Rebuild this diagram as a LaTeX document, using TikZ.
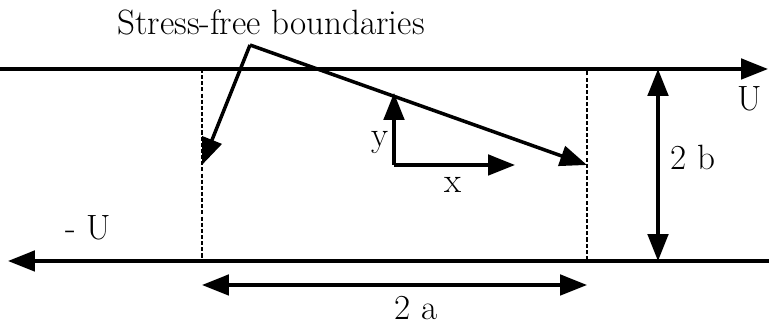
\documentclass[tikz,border=0pt]{standalone}
\usetikzlibrary{arrows.meta}
\tikzset{
  flow/.style={line width=2pt,-{Triangle[length=0.54cm,width=0.41cm]}},
  span/.style={line width=2pt,{Triangle[length=0.54cm,width=0.41cm]}-{Triangle[length=0.54cm,width=0.41cm]}},
  bound/.style={line width=0.6pt,dash pattern=on 2.3pt off 1.2pt},
  lbl/.style={font=\fontsize{20}{24}\selectfont,inner sep=0pt,anchor=base}
}
\begin{document}
\begin{tikzpicture}[x=0.02cm,y=-0.02cm]
      \useasboundingbox (0,0) rectangle (769,327);
      % walls
      \coordinate (wtl) at (0,69);
      \coordinate (wtr) at (768,69);
      \coordinate (wbl) at (8,261);
      \coordinate (wbr) at (769,261);
      % stress-free boundaries
      \coordinate (blt) at (202,69);
      \coordinate (blb) at (202,261);
      \coordinate (brt) at (587,69);
      \coordinate (brb) at (587,261);
      \draw [bound] (blt) -- (blb) -- (brb) -- (brt);
      \draw [flow] (wtl) -- (wtr);
      \draw [flow] (wbr) -- (wbl);
      \node [lbl] (U) at (750,111) {U};
      \node [lbl] (mU) at (88,240) {- U};
      % 2b
      \coordinate (ht) at (658,69);
      \coordinate (hb) at (658,261);
      \draw [span] (ht) -- (hb);
      \node [lbl] (b) at (693,170) {2 b};
      % 2a
      \coordinate (wl) at (202,285);
      \coordinate (wr) at (587,285);
      \draw [span] (wl) -- (wr);
      \node [lbl] (a) at (416,320) {2 a};
      % axes
      \coordinate (o) at (394,165);
      \coordinate (yend) at (394,93);
      \coordinate (xend) at (515,165);
      \draw [flow] (o) -- (yend);
      \draw [flow] (o) -- (xend);
      \node [lbl] (y) at (380,147) {y};
      \node [lbl] (x) at (453,193) {x};
      % label with pointers
      \node [lbl] (sf) at (271,35) {Stress-free boundaries};
      \coordinate (apex) at (250,45);
      \coordinate (pl) at (202,165);
      \coordinate (pr) at (587,165);
      \draw [flow] (apex) -- (pl);
      \draw [flow] (apex) -- (pr);
    \end{tikzpicture}
\end{document}
